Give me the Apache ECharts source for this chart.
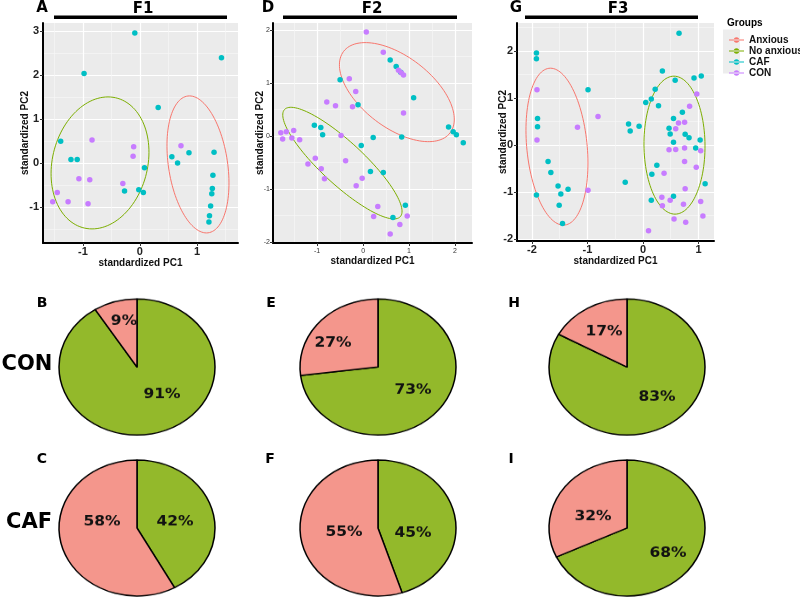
<!DOCTYPE html>
<html><head><meta charset="utf-8">
<script src="https://cdn.jsdelivr.net/npm/echarts@6/dist/echarts.min.js"></script>
<style>
html,body{margin:0;padding:0;background:#fff;width:800px;height:598px;overflow:hidden;}
#pies{position:absolute;left:0;top:290px;width:800px;height:354px;transform:scaleY(0.872);transform-origin:0 0;}
#main{position:absolute;left:0;top:0;width:800px;height:598px;}
</style></head><body>
<div id="pies"></div><div id="main"></div>
<script>
// ---------------- DATA ----------------
const groupNames = ['Anxious', 'No anxious', 'CAF', 'CON'];
const panelTitles = ['F1', 'F2', 'F3'];
const rowLabels = ['CON', 'CAF'];

// PCA scores [standardized PC1, standardized PC2]
const f1Caf = [[-0.09,2.95],[1.43,2.39],[-0.98,2.03],[0.32,1.26],[-1.39,0.49],[-1.21,0.08],[-1.10,0.08],[0.56,0.14],[0.66,0.0],[0.86,0.23],[1.30,0.24],[0.08,-0.11],[1.28,-0.28],[-0.27,-0.64],[-0.02,-0.61],[0.06,-0.67],[1.27,-0.58],[1.26,-0.70],[1.24,-0.98],[1.22,-1.20],[1.21,-1.34]];
const f1Con = [[-0.84,0.52],[-0.11,0.37],[0.72,0.39],[-0.12,0.15],[-1.07,-0.36],[-0.88,-0.38],[-0.30,-0.47],[-1.45,-0.67],[-1.53,-0.88],[-1.26,-0.88],[-0.91,-0.93]];
const f2Caf = [[0.59,1.43],[0.72,1.31],[0.82,1.20],[-0.50,1.06],[1.10,0.72],[-0.11,0.59],[1.86,0.17],[1.96,0.08],[2.03,0.02],[2.18,-0.13],[-1.06,0.20],[-0.92,0.16],[-0.88,0.02],[0.22,-0.03],[0.84,-0.02],[-0.04,-0.18],[0.16,-0.67],[0.44,-0.69],[0.92,-1.31],[0.65,-1.54]];
const f2Con = [[0.07,1.96],[0.44,1.58],[0.77,1.24],[0.83,1.19],[0.88,1.15],[-0.30,1.08],[-0.16,0.84],[-0.79,0.64],[-0.60,0.57],[-0.23,0.55],[0.88,0.43],[-1.79,0.06],[-1.67,0.08],[-1.51,0.10],[-1.75,-0.06],[-1.55,-0.04],[-1.38,-0.07],[-0.48,0.01],[-1.04,-0.42],[-1.20,-0.53],[-0.91,-0.62],[-0.38,-0.47],[-0.84,-0.81],[-0.02,-0.80],[-0.15,-0.94],[0.32,-1.33],[0.23,-1.52],[0.96,-1.51],[0.80,-1.67],[0.59,-1.85]];
const f3Caf = [[0.65,2.38],[-1.92,1.96],[-1.92,1.84],[0.35,1.58],[1.05,1.47],[0.92,1.43],[0.58,1.38],[-0.99,1.18],[0.22,1.19],[0.15,0.98],[0.05,0.91],[0.28,0.84],[0.71,0.70],[-1.90,0.57],[0.55,0.57],[-1.90,0.39],[-0.26,0.45],[-0.07,0.40],[-0.23,0.30],[0.47,0.36],[0.49,0.24],[0.76,0.23],[0.83,0.16],[1.03,0.11],[0.55,0.06],[0.95,-0.06],[-1.71,-0.35],[-1.66,-0.58],[0.25,-0.43],[0.16,-0.62],[-0.32,-0.79],[1.12,-0.82],[-1.53,-0.87],[-1.35,-0.94],[-1.48,-1.04],[-1.92,-1.06],[0.55,-1.09],[0.15,-1.17],[-1.51,-1.28],[-1.45,-1.67]];
const f3Con = [[-1.91,1.18],[0.97,1.09],[0.84,0.83],[-0.81,0.61],[0.64,0.47],[0.75,0.49],[0.59,0.35],[-1.18,0.38],[-1.91,0.11],[0.47,-0.10],[0.59,-0.09],[0.75,-0.06],[1.04,-0.12],[0.75,-0.35],[0.96,-0.47],[0.38,-0.60],[-0.99,-0.96],[0.76,-0.93],[0.34,-1.11],[0.49,-1.17],[0.35,-1.29],[0.73,-1.26],[1.04,-1.20],[1.08,-1.51],[0.56,-1.57],[0.77,-1.64],[0.10,-1.82]];

// Confidence ellipses: [centerPC1, centerPC2, u1, u2, v1, v2] (conjugate semi-diameters, data units)
const f1AnxiousEllipse = [1.018, -0.034, 0.523, 0, -0.149, 1.557];
const f1NoAnxEllipse   = [-0.70, 0.0, 0.847, 0, 0.14, 1.5];
const f2AnxiousEllipse = [0.735, 0.826, 1.159, -0.768, 0.467, 0.532];
const f2NoAnxEllipse   = [-0.45, -0.513, 1.259, -1.011, 0.315, 0.294];
const f3AnxiousEllipse = [-1.55, -0.032, 0.546, 0, -0.117, 1.67];
const f3NoAnxEllipse   = [0.568, 0.0, 0.55, 0, -0.01, 1.468];

// axis ranges and tick labels
const f1XRange = [-1.70, 1.72], f1YRange = [-1.82, 3.18];
const f2XRange = [-1.96, 2.37], f2YRange = [-2.02, 2.13];
const f3XRange = [-2.27, 1.28], f3YRange = [-2.04, 2.60];
const f1XTicks = [-1, 0, 1], f1YTicks = [-1, 0, 1, 2, 3];
const f2XTicks = [-1, 0, 1, 2], f2YTicks = [-2, -1, 0, 1, 2];
const f3XTicks = [-2, -1, 0, 1], f3YTicks = [-2, -1, 0, 1, 2];
const f1XMinor = [-1.5, -0.5, 0.5, 1.5], f1YMinor = [-1.5, -0.5, 0.5, 1.5, 2.5];
const f2XMinor = [-1.5, -0.5, 0.5, 1.5], f2YMinor = [-1.5, -0.5, 0.5, 1.5];
const f3XMinor = [-1.5, -0.5, 0.5], f3YMinor = [-1.5, -0.5, 0.5, 1.5, 2.5];

// Pie percentages per fraction F1, F2, F3
const conAnxious = [9, 27, 17];
const conNoAnxious = [91, 73, 83];
const cafAnxious = [58, 55, 32];
const cafNoAnxious = [42, 45, 68];

// ---------------- STYLE ----------------
const C_ANX = '#F8766D', C_NOANX = '#7CAE00', C_CAF = '#00BFC4', C_CON = '#C77CFF';
const PIE_PINK = '#F4968C', PIE_GREEN = '#93B92B';
const SANS = 'Liberation Sans', VERD = 'DejaVu Sans';

// ---------------- SCATTER PANELS ----------------
const panels = [
  {grid:{left:43, top:23, width:195, height:220}, xr:f1XRange, yr:f1YRange, xt:f1XTicks, yt:f1YTicks, xm:f1XMinor, ym:f1YMinor,
   caf:f1Caf, con:f1Con, anx:f1AnxiousEllipse, noanx:f1NoAnxEllipse, small:false, yGap:13, xGap:13},
  {grid:{left:273, top:23, width:199, height:220}, xr:f2XRange, yr:f2YRange, xt:f2XTicks, yt:f2YTicks, xm:f2XMinor, ym:f2YMinor,
   caf:f2Caf, con:f2Con, anx:f2AnxiousEllipse, noanx:f2NoAnxEllipse, small:true, yGap:8, xGap:13},
  {grid:{left:517, top:23, width:197, height:218}, xr:f3XRange, yr:f3YRange, xt:f3XTicks, yt:f3YTicks, xm:f3XMinor, ym:f3YMinor,
   caf:f3Caf, con:f3Con, anx:f3AnxiousEllipse, noanx:f3NoAnxEllipse, small:false, yGap:9, xGap:15}
];

const grids = [], xAxes = [], yAxes = [], series = [];
const nameStyle = {fontFamily:SANS, fontWeight:'bold', fontSize:10, color:'#111'};
panels.forEach((p, i) => {
  grids.push(Object.assign({show:true, backgroundColor:'#EBEBEB', borderWidth:0, outerBoundsMode:'none'}, p.grid));
  const lab = p.small ? {fontFamily:SANS, fontSize:7, color:'#333'} : {fontFamily:SANS, fontWeight:'bold', fontSize:11, color:'#222'};
  xAxes[i] = {type:'value', gridIndex:i, min:p.xr[0], max:p.xr[1], position:'bottom',
    name:'standardized PC1', nameLocation:'middle', nameGap:p.xGap, nameTextStyle:nameStyle,
    axisLine:{show:true, onZero:false, lineStyle:{color:'#000', width:2}},
    axisTick:{show:true, length:3, lineStyle:{color:'#333'}, customValues:p.xt},
    axisLabel:Object.assign({show:true, margin:p.small?5:3, customValues:p.xt}, lab),
    splitLine:{show:true, lineStyle:{color:'#FFFFFF', width:1.2}}};
  yAxes[i] = {type:'value', gridIndex:i, min:p.yr[0], max:p.yr[1], position:'left',
    name:'standardized PC2', nameLocation:'middle', nameGap:p.yGap, nameMoveOverlap:false, nameTextStyle:nameStyle,
    axisLine:{show:true, onZero:false, lineStyle:{color:'#000', width:2}},
    axisTick:{show:true, length:3, lineStyle:{color:'#333'}, customValues:p.yt},
    axisLabel:Object.assign({show:true, margin:p.small?3:4, customValues:p.yt}, lab),
    splitLine:{show:true, lineStyle:{color:'#FFFFFF', width:1.2}}};
  xAxes[3+i] = {type:'value', gridIndex:i, min:p.xr[0], max:p.xr[1], position:'bottom',
    axisLine:{show:false}, axisTick:{show:false, customValues:p.xm}, axisLabel:{show:false, customValues:p.xm},
    splitLine:{show:true, lineStyle:{color:'#F6F6F6', width:0.7}}};
  yAxes[3+i] = {type:'value', gridIndex:i, min:p.yr[0], max:p.yr[1], position:'left',
    axisLine:{show:false}, axisTick:{show:false, customValues:p.ym}, axisLabel:{show:false, customValues:p.ym},
    splitLine:{show:true, lineStyle:{color:'#F6F6F6', width:0.7}}};

  const ell = (name, color, d) => ({
    type:'custom', name, xAxisIndex:i, yAxisIndex:i, coordinateSystem:'cartesian2d',
    itemStyle:{color}, encode:{x:0, y:1}, silent:true, z:3,
    data:[d],
    renderItem: function(params, api) {
      const cx=api.value(0), cy=api.value(1), ux=api.value(2), uy=api.value(3), vx=api.value(4), vy=api.value(5);
      const pts = [];
      for (let k = 0; k <= 120; k++) {
        const t = k / 120 * Math.PI * 2;
        pts.push(api.coord([cx + ux*Math.cos(t) + vx*Math.sin(t), cy + uy*Math.cos(t) + vy*Math.sin(t)]));
      }
      return {type:'polyline', shape:{points:pts}, style:{fill:'none', stroke:api.visual('color'), lineWidth:1}};
    }
  });
  series.push(ell(groupNames[0], C_ANX, p.anx));
  series.push(ell(groupNames[1], C_NOANX, p.noanx));
  series.push({type:'scatter', name:groupNames[2], xAxisIndex:i, yAxisIndex:i, data:p.caf, symbolSize:5.5,
    itemStyle:{color:C_CAF, opacity:1}, z:4, silent:true});
  series.push({type:'scatter', name:groupNames[3], xAxisIndex:i, yAxisIndex:i, data:p.con, symbolSize:5.5,
    itemStyle:{color:C_CON, opacity:1}, z:4, silent:true});
});

function txt(text, x, y, size, family, align) {
  return {type:'text', x, y, style:{text, fill:'#000', font:'bold ' + size + 'px "' + family + '"',
    align: align || 'center', verticalAlign:'middle'}};
}
function bar(x1, x2, y) {
  return {type:'rect', shape:{x:x1, y:y, width:x2-x1, height:3.5}, style:{fill:'#000'}};
}
const keyIcon = 'path://M0,2.1H15V2.9H0Z M4.8,2.5A2.7,2.7,0,1,0,10.2,2.5A2.7,2.7,0,1,0,4.8,2.5Z';

const mainOption = {
  backgroundColor:'transparent',
  animation:false,
  grid:grids, xAxis:xAxes, yAxis:yAxes, series,
  legend:{left:724, top:29.5, orient:'vertical', itemGap:0, itemWidth:15, itemHeight:5.4, selectedMode:false,
    data:groupNames.map(n => ({name:n, icon:keyIcon})),
    textStyle:{fontFamily:SANS, fontWeight:'bold', fontSize:10, color:'#111', lineHeight:11}},
  graphic:[
    {type:'rect', shape:{x:723, y:29.5, width:17, height:44}, style:{fill:'#EDEDED'}, z:-1},
    txt('Groups', 727, 23, 10, SANS, 'left'),
    txt('A', 42, 8, 15, VERD), txt('D', 268, 8, 15, VERD), txt('G', 516, 8, 15, VERD),
    txt(panelTitles[0], 143, 9, 15, VERD), txt(panelTitles[1], 372, 9, 15, VERD), txt(panelTitles[2], 618, 9, 15, VERD),
    bar(54, 227, 15.5), bar(283, 457, 15.5), bar(525, 698, 15.5),
    txt('B', 42, 303, 14, VERD), txt('E', 271, 303, 14, VERD), txt('H', 514, 303, 14, VERD),
    txt('C', 42, 459, 14, VERD), txt('F', 270, 459, 14, VERD), txt('I', 511, 459, 14, VERD),
    txt(rowLabels[0], 27, 365, 21, VERD), txt(rowLabels[1], 29, 523, 21, VERD)
  ]
};
echarts.init(document.getElementById('main'), null, {renderer:'canvas'}).setOption(mainOption);

// ---------------- PIES ----------------
const S = 0.872, TOP = 290;
const pieCx = [137, 378, 627];
const rowCy = [367, 528];
// label offsets in screen px relative to pie centre: [no anxious, anxious]
const labelOffsets = [
  [[[25, 28], [-13, -46]], [[35, 23], [-45, -24]], [[30, 30], [-23, -35]]],
  [[[38, -6], [-35, -6]], [[35, 5], [-34, 4]], [[41, 25], [-34, -11]]]
];
const pieRows = [[conNoAnxious, conAnxious], [cafNoAnxious, cafAnxious]];
const pieSeries = [];
pieRows.forEach((row, r) => {
  pieCx.forEach((cx, i) => {
    const cy = (rowCy[r] - TOP) / S;
    const offs = labelOffsets[r][i];
    pieSeries.push({
      type:'pie', center:[cx, cy], radius:78, startAngle:90, clockwise:true,
      avoidLabelOverlap:false, silent:true, animation:false,
      itemStyle:{borderColor:'#000', borderWidth:1.5},
      label:{show:true, position:'inside', formatter:'{c}%', fontFamily:VERD, fontWeight:'bold', fontSize:15.5, color:'#111'},
      labelLine:{show:false},
      emphasis:{disabled:true},
      labelLayout: function(params) {
        const o = offs[params.dataIndex];
        return {x: cx + o[0], y: cy + o[1] / S, align:'center', verticalAlign:'middle'};
      },
      data:[
        {name:groupNames[1], value:row[0][i], itemStyle:{color:PIE_GREEN}},
        {name:groupNames[0], value:row[1][i], itemStyle:{color:PIE_PINK}}
      ]
    });
  });
});
echarts.init(document.getElementById('pies'), null, {renderer:'canvas'}).setOption({
  backgroundColor:'#fff', animation:false, series:pieSeries
});
</script></body></html>
